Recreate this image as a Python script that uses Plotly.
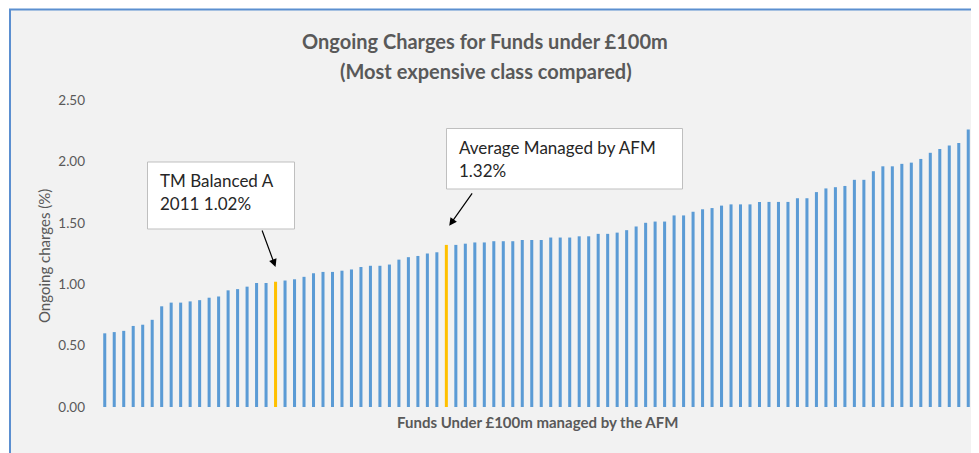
import plotly.graph_objects as go

# ---- data ----
ongoing_charges = [
    0.60, 0.61, 0.62, 0.66, 0.67, 0.71, 0.82, 0.85, 0.85, 0.86,
    0.87, 0.89, 0.90, 0.95, 0.96, 0.98, 1.01, 1.01, 1.02, 1.03,
    1.04, 1.06, 1.09, 1.10, 1.10, 1.11, 1.12, 1.14, 1.15, 1.15,
    1.16, 1.20, 1.22, 1.23, 1.25, 1.26, 1.32, 1.32, 1.33, 1.34,
    1.34, 1.35, 1.35, 1.35, 1.36, 1.36, 1.36, 1.38, 1.38, 1.38,
    1.39, 1.39, 1.41, 1.41, 1.42, 1.44, 1.47, 1.50, 1.51, 1.51,
    1.56, 1.56, 1.59, 1.61, 1.62, 1.64, 1.65, 1.65, 1.65, 1.67,
    1.67, 1.67, 1.67, 1.70, 1.70, 1.75, 1.78, 1.79, 1.80, 1.85,
    1.85, 1.92, 1.96, 1.96, 1.98, 1.99, 2.02, 2.07, 2.10, 2.13,
    2.15, 2.26,
]
funds = [f"Fund {i + 1}" for i in range(len(ongoing_charges))]
highlighted = [18, 36]          # TM Balanced A 2011, Average managed by AFM
y_ticks = [0.0, 0.5, 1.0, 1.5, 2.0, 2.5]

BLUE = "#5b9bd5"
GOLD = "#ffc000"
bar_colors = [GOLD if i in highlighted else BLUE for i in range(len(funds))]

FONT = "Lato"
GREY = "#595959"
DARK = "#262626"

fig = go.Figure(go.Bar(
    x=funds, y=ongoing_charges, marker=dict(color=bar_colors, line=dict(width=0)),
    showlegend=False,
))

# layout geometry (figure pixels; the page body adds an 8px offset)
OFF = 8
W, H = 979 - OFF, 453 - OFF
L, R, T, B = 92, 6, 92, 46
pw, ph = W - L - R, H - T - B


def px(x):
    """reference-screen x pixel -> paper x"""
    return (x - OFF - L) / pw


def py(y):
    """reference-screen y pixel -> paper y"""
    return (H - B - (y - OFF)) / ph


fig.update_layout(
    width=W, height=H,
    margin=dict(l=L, r=R, t=T, b=B, pad=0),
    paper_bgcolor="white",
    plot_bgcolor="rgba(0,0,0,0)",
    bargap=0.68,
    font=dict(family=FONT, color=GREY),
    xaxis=dict(showticklabels=False, showgrid=False, zeroline=False, showline=False,
               ticks=""),
    yaxis=dict(range=[0, 2.5], tickvals=y_ticks, tickformat=".2f",
               showgrid=False, zeroline=False, showline=False,
               tickfont=dict(family=FONT, size=13.5, color=GREY),
               ticklabelstandoff=14),
)

shapes = [
    # chart area background and border
    dict(type="rect", xref="paper", yref="paper", layer="below",
         x0=px(10), x1=px(1000), y0=py(480), y1=py(9.5),
         fillcolor="#f2f2f2", line=dict(color="#5b8fd0", width=2)),
    # callout boxes
    dict(type="rect", xref="paper", yref="paper", layer="above",
         x0=px(147.5), x1=px(294.5), y0=py(229), y1=py(162),
         fillcolor="white", line=dict(color="#bfbfbf", width=1)),
    dict(type="rect", xref="paper", yref="paper", layer="above",
         x0=px(446.5), x1=px(682.5), y0=py(189), y1=py(128.5),
         fillcolor="white", line=dict(color="#bfbfbf", width=1)),
]


def label(text, x, y, size, color=GREY, xanchor="center", angle=0):
    return dict(text=text, xref="paper", yref="paper", x=px(x), y=py(y),
                xanchor=xanchor, yanchor="middle", textangle=angle,
                showarrow=False, font=dict(family=FONT, size=size, color=color))


anns = [
    label("<b>Ongoing Charges for Funds under £100m</b>", 485, 41, 20),
    label("<b>(Most expensive class compared)</b>", 486, 71, 20),
    label("<b>Funds Under £100m managed by the AFM</b>", 537, 422, 15),
    label("Ongoing charges (%)", 44, 256, 15, angle=-90),
    # callout texts
    label("TM Balanced A", 158, 180, 17, DARK, xanchor="left"),
    label("2011 1.02%", 158, 203, 17, DARK, xanchor="left"),
    label("Average Managed by AFM", 457, 147, 17, DARK, xanchor="left"),
    label("1.32%", 457, 170, 17, DARK, xanchor="left"),
    # arrows
    dict(text="", x=funds[highlighted[0]], y=1.14, xref="x", yref="y",
         showarrow=True, arrowhead=2, arrowsize=1.3, arrowwidth=1.2, arrowcolor="#000000",
         ax=-14, ay=-38, standoff=0),
    dict(text="", x=highlighted[1] + 0.3, y=1.475, xref="x", yref="y",
         showarrow=True, arrowhead=2, arrowsize=1.3, arrowwidth=1.2, arrowcolor="#000000",
         ax=24, ay=-34, standoff=0),
]

fig.update_layout(shapes=shapes, annotations=anns)
fig.write_html("out.html")
